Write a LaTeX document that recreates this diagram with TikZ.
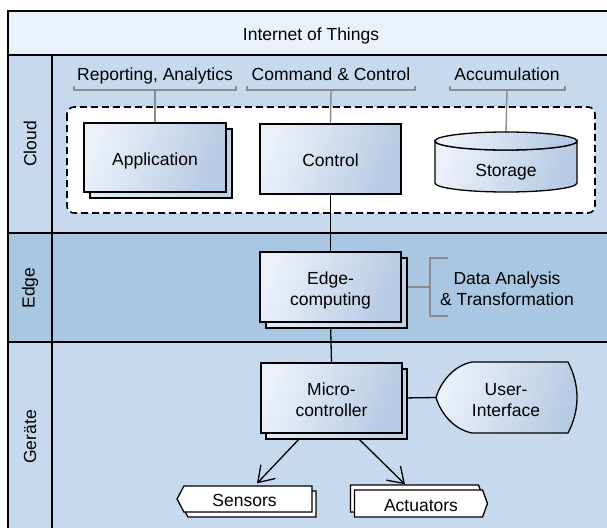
\documentclass[tikz,border=0pt]{standalone}
\usepackage{fontspec}
\setmainfont{Liberation Sans}
\usetikzlibrary{arrows.meta,shapes.symbols,shadows,calc}
\pgfdeclarelayer{back}
\pgfdeclarelayer{conn}
\pgfsetlayers{back,conn,main}
\definecolor{titlecol}{HTML}{EAF1FB}
\definecolor{cloudcol}{HTML}{C6D9EE}
\definecolor{edgecol}{HTML}{A9C7E2}
\definecolor{bxL}{HTML}{EBF0F9}
\definecolor{bxR}{HTML}{B6CAE4}
\definecolor{shL}{HTML}{E3EAF5}
\definecolor{shR}{HTML}{BFD0E8}
\definecolor{graycol}{HTML}{8C8C8C}
\tikzset{
  frameline/.style={line width=2pt, draw=black},
  oneline/.style={text height=17pt, text depth=1.8pt},
  twoline/.style={text height=38pt, text depth=1.8pt},
  grad/.style={left color=bxL, right color=bxR, shading angle=70},
  boxnode/.style={draw=black, line width=1.3pt, grad,
    minimum width=141pt, minimum height=70pt, inner sep=0pt, align=center},
  boxshadow/.style={copy shadow={shadow xshift=6pt, shadow yshift=-6pt,
    left color=shL, right color=shR, draw=black, line width=1.3pt}},
  plain/.style={inner sep=0pt, align=center},
  grayline/.style={draw=graycol, line width=1.4pt},
  conline/.style={draw=black, line width=1.3pt},
  arrowline/.style={draw=black, line width=1.3pt, -{Straight Barb[length=15pt,width=20pt,line width=1.3pt]}},
  signode/.style={signal, draw=black, line width=1.3pt, fill=white, inner sep=0pt,
    signal from=nowhere, oneline},
}
\begin{document}
\begin{tikzpicture}[x=1pt,y=-1pt, font=\fontsize{17.5}{21}\selectfont]
\useasboundingbox (0,0) rectangle (607,527);
\clip (0,0) rectangle (607,527);

\begin{pgfonlayer}{back}
  \fill[titlecol] (8,11) rectangle (614,55);
  \fill[cloudcol] (8,55) rectangle (614,233);
  \fill[edgecol] (8,233) rectangle (614,342);
  \fill[cloudcol] (8,342) rectangle (614,532);
  \draw[frameline] (8,11) rectangle (614,532);
  \draw[frameline] (8,55) -- (614,55);
  \draw[frameline] (8,233) -- (614,233);
  \draw[frameline] (8,342) -- (614,342);
  \draw[frameline] (52,55) -- (52,532);
  \draw[line width=1.6pt, dash pattern=on 7pt off 4pt, rounded corners=7pt, fill=white]
    (67,107) rectangle (595,213);
\end{pgfonlayer}

% titles
\node[plain, oneline] (title) at (311,32.5) {Internet of Things};
\node[plain, rotate=90] (lcloud) at (30,144) {Cloud};
\node[plain, rotate=90] (ledge) at (30,288) {Edge};
\node[plain, rotate=90] (lgeraete) at (30,437) {Geräte};

% cloud labels
\node[plain, oneline] (lrep) at (155,72.5) {Reporting, Analytics};
\node[plain, oneline] (lcmd) at (331,72.5) {Command \& Control};
\node[plain, oneline] (lacc) at (507,72.5) {Accumulation};

% boxes
\node[boxnode, boxshadow, oneline, minimum width=142pt, minimum height=69pt] (app) at (155,157.5) {Application};
\node[boxnode, oneline] (ctrl) at (330.5,159) {Control};
\node[boxnode, boxshadow, twoline] (edge) at (330.5,287) {Edge-\\computing};
\node[boxnode, twoline, copy shadow={shadow xshift=5pt, shadow yshift=-6pt,
    left color=shL, right color=shR, draw=black, line width=1.3pt}] (micro) at (331.5,398) {Micro-\\controller};

% storage cylinder
\node[plain, minimum width=142pt, minimum height=60pt] (stor) at (506,162) {};
\shade[grad, draw=black, line width=1.3pt]
  (435,141) -- (435,183) arc[start angle=180, end angle=0, x radius=71, y radius=9]
  -- (577,141) arc[start angle=0, end angle=180, x radius=71, y radius=9] -- cycle;
\shade[grad, draw=black, line width=1.3pt]
  (506,141) ellipse[x radius=71, y radius=9];
\node[plain, oneline] (stortext) at (506,168.5) {Storage};

% user interface display shape
\node[plain, minimum width=141pt, minimum height=71pt] (ui) at (506.5,397.5) {};
\shade[grad, draw=black, line width=1.3pt]
  (472,362) -- (568,362) .. controls (580,385) and (580,410) .. (568,433)
  -- (472,433) .. controls (452,429) and (440,411) .. (436,397.5)
  .. controls (440,384) and (452,366) .. (472,362) -- cycle;
\node[plain, twoline] (uitext) at (506,398.5) {User-\\Interface};

% sensors / actuators
\node[signode, signal to=west, signal pointer angle=124,
  minimum width=135pt, minimum height=26pt,
  copy shadow={shadow xshift=4pt, shadow yshift=-5pt, fill=white, draw=black, line width=1.3pt}]
  (sens) at (248,499) {Sensors\kern7pt};
\node[signode, signal to=east, signal pointer angle=140,
  minimum width=133pt, minimum height=27pt,
  copy shadow={shadow xshift=-4pt, shadow yshift=5pt, fill=white, draw=black, line width=1.3pt}]
  (act) at (418.5,503.5) {\kern5pt Actuators};

% data analysis label
\node[plain, twoline] (lda) at (507,287) {Data Analysis\\\& Transformation};

% connectors
\begin{pgfonlayer}{conn}
  \coordinate (b1) at (155,90);
  \coordinate (b2) at (331,90);
  \coordinate (b3) at (507,90);
  \coordinate (b4) at (430,287);
  \draw[grayline] (74,86) -- (74,90) -- (236,90) -- (236,86);
  \draw[grayline] (247,86) -- (247,90) -- (415,90) -- (415,86);
  \draw[grayline] (450,86) -- (450,90) -- (565,90) -- (565,86);
  \draw[grayline] (b1) -- (app.north);
  \draw[grayline] (b2) -- (ctrl.north);
  \draw[grayline] (b3) -- (stor.north);
  \draw[grayline] (448,258) -- (430,258) -- (430,316) -- (448,316);
  \draw[grayline] (edge.east) -- (b4);
  \draw[conline] (ctrl.south) -- (edge.north);
  \draw[conline] (edge.south) -- (micro.north);
  \draw[conline] (micro.east) -- (ui.west);
\end{pgfonlayer}
\draw[arrowline] ([xshift=-33pt,yshift=-6pt]micro.south) -- ([xshift=9pt,yshift=2pt]sens.north);
\draw[arrowline] ([xshift=28pt,yshift=-6pt]micro.south) -- ([xshift=-13.5pt,yshift=5pt]act.north);
\end{tikzpicture}
\end{document}
